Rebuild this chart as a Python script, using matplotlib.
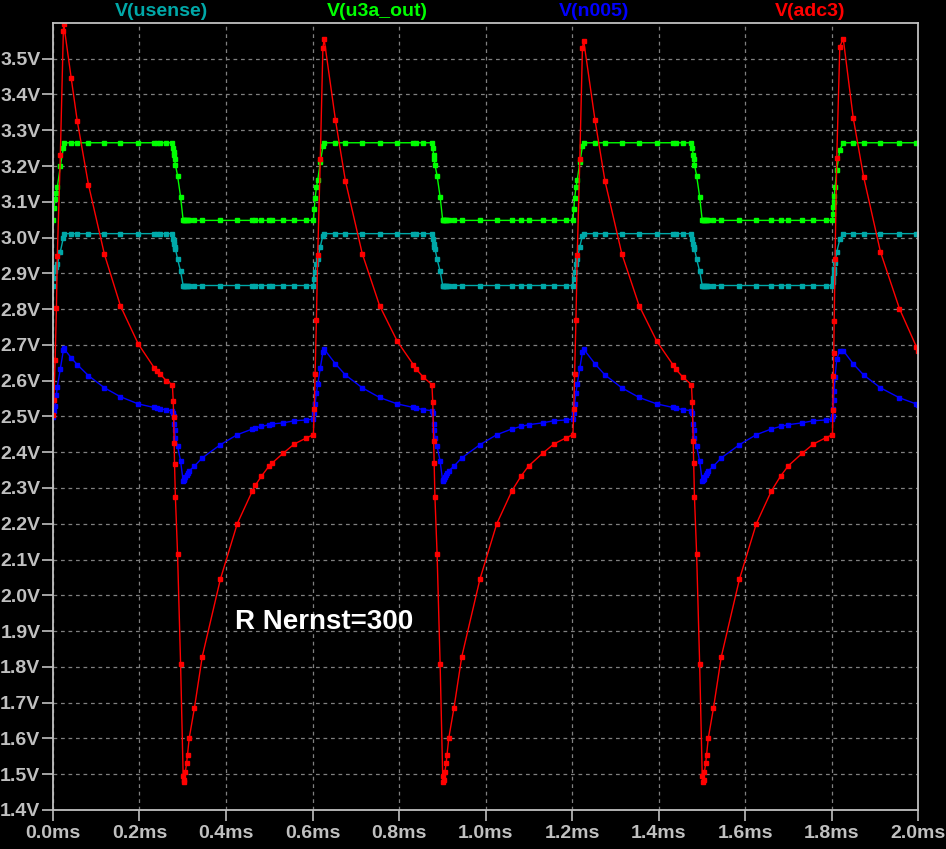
import matplotlib.pyplot as plt
from matplotlib.ticker import FixedLocator, FuncFormatter

# simulation time points shared by all four traces (ms)
time_ms = [
    0.000, 0.002, 0.005, 0.008, 0.010, 0.017, 0.024, 0.025, 0.042, 0.056,
    0.082, 0.119, 0.156, 0.197, 0.234, 0.241, 0.248, 0.262, 0.276, 0.278,
    0.279, 0.280, 0.281, 0.283, 0.288, 0.295, 0.301, 0.302, 0.304, 0.306,
    0.309, 0.311, 0.315, 0.327, 0.345, 0.387, 0.426, 0.461, 0.468, 0.482,
    0.500, 0.507, 0.532, 0.558, 0.586, 0.602,
    0.604, 0.606, 0.609, 0.612, 0.618, 0.624, 0.627, 0.653, 0.676, 0.715,
    0.755, 0.796, 0.833, 0.840, 0.856, 0.876, 0.878, 0.880, 0.881, 0.883,
    0.888, 0.895, 0.901, 0.902, 0.904, 0.906, 0.909, 0.911, 0.915, 0.927,
    0.945, 0.987, 1.026, 1.061, 1.082, 1.100, 1.132, 1.158, 1.186, 1.202,
    1.204, 1.206, 1.209, 1.212, 1.218, 1.224, 1.227, 1.253, 1.276, 1.315,
    1.355, 1.396, 1.433, 1.440, 1.456, 1.476, 1.478, 1.480, 1.481, 1.483,
    1.488, 1.495, 1.501, 1.502, 1.504, 1.506, 1.509, 1.511, 1.515, 1.527,
    1.545, 1.587, 1.626, 1.661, 1.682, 1.700, 1.732, 1.758, 1.786, 1.802,
    1.803, 1.804, 1.805, 1.806, 1.808, 1.812, 1.819, 1.827, 1.850, 1.874,
    1.913, 1.957, 1.996, 2.000,
]

v_usense = [
    2.866, 2.888, 2.906, 2.918, 2.925, 2.960, 3.000, 3.011, 3.011, 3.011,
    3.011, 3.011, 3.011, 3.011, 3.011, 3.011, 3.011, 3.011, 3.011, 2.997,
    2.990, 2.983, 2.975, 2.969, 2.940, 2.906, 2.866, 2.866, 2.866, 2.866,
    2.866, 2.866, 2.866, 2.866, 2.866, 2.866, 2.866, 2.866, 2.866, 2.866,
    2.866, 2.866, 2.866, 2.866, 2.866, 2.866,
    2.885, 2.905, 2.925, 2.940, 2.975, 3.005, 3.011, 3.011, 3.011, 3.011,
    3.011, 3.011, 3.011, 3.011, 3.011, 3.011, 2.997, 2.983, 2.975, 2.969,
    2.940, 2.906, 2.866, 2.866, 2.866, 2.866, 2.866, 2.866, 2.866, 2.866,
    2.866, 2.866, 2.866, 2.866, 2.866, 2.866, 2.866, 2.866, 2.866, 2.866,
    2.885, 2.905, 2.925, 2.940, 2.975, 3.005, 3.011, 3.011, 3.011, 3.011,
    3.011, 3.011, 3.011, 3.011, 3.011, 3.011, 2.997, 2.983, 2.975, 2.969,
    2.940, 2.906, 2.866, 2.866, 2.866, 2.866, 2.866, 2.866, 2.866, 2.866,
    2.866, 2.866, 2.866, 2.866, 2.866, 2.866, 2.866, 2.866, 2.866, 2.866,
    2.875, 2.888, 2.900, 2.912, 2.930, 2.960, 2.995, 3.011, 3.011, 3.011,
    3.011, 3.011, 3.011, 3.011,
]

v_u3a_out = [
    3.048, 3.083, 3.107, 3.125, 3.140, 3.200, 3.250, 3.265, 3.265, 3.265,
    3.265, 3.265, 3.265, 3.265, 3.265, 3.265, 3.265, 3.265, 3.265, 3.251,
    3.240, 3.232, 3.220, 3.204, 3.173, 3.114, 3.048, 3.048, 3.048, 3.048,
    3.048, 3.048, 3.048, 3.048, 3.048, 3.048, 3.048, 3.048, 3.048, 3.048,
    3.048, 3.048, 3.048, 3.048, 3.048, 3.048,
    3.080, 3.110, 3.140, 3.160, 3.210, 3.255, 3.265, 3.265, 3.265, 3.265,
    3.265, 3.265, 3.265, 3.265, 3.265, 3.265, 3.251, 3.232, 3.220, 3.204,
    3.173, 3.114, 3.048, 3.048, 3.048, 3.048, 3.048, 3.048, 3.048, 3.048,
    3.048, 3.048, 3.048, 3.048, 3.048, 3.048, 3.048, 3.048, 3.048, 3.048,
    3.080, 3.110, 3.140, 3.160, 3.210, 3.255, 3.265, 3.265, 3.265, 3.265,
    3.265, 3.265, 3.265, 3.265, 3.265, 3.265, 3.251, 3.232, 3.220, 3.204,
    3.173, 3.114, 3.048, 3.048, 3.048, 3.048, 3.048, 3.048, 3.048, 3.048,
    3.048, 3.048, 3.048, 3.048, 3.048, 3.048, 3.048, 3.048, 3.048, 3.048,
    3.065, 3.085, 3.100, 3.115, 3.140, 3.190, 3.245, 3.265, 3.265, 3.265,
    3.265, 3.265, 3.265, 3.265,
]

v_n005 = [
    2.499, 2.515, 2.529, 2.561, 2.583, 2.633, 2.685, 2.690, 2.664, 2.645,
    2.614, 2.580, 2.555, 2.535, 2.525, 2.523, 2.522, 2.518, 2.516, 2.510,
    2.500, 2.480, 2.463, 2.440, 2.417, 2.375, 2.319, 2.321, 2.325, 2.330,
    2.336, 2.342, 2.348, 2.361, 2.384, 2.421, 2.449, 2.465, 2.468, 2.472,
    2.477, 2.479, 2.482, 2.488, 2.490, 2.493,
    2.510, 2.535, 2.565, 2.590, 2.635, 2.680, 2.688, 2.647, 2.616, 2.580,
    2.553, 2.535, 2.525, 2.523, 2.519, 2.516, 2.510, 2.480, 2.463, 2.440,
    2.417, 2.375, 2.319, 2.321, 2.325, 2.330, 2.336, 2.342, 2.348, 2.361,
    2.384, 2.421, 2.449, 2.465, 2.472, 2.477, 2.482, 2.488, 2.490, 2.493,
    2.510, 2.535, 2.565, 2.590, 2.635, 2.680, 2.688, 2.647, 2.616, 2.580,
    2.553, 2.535, 2.525, 2.523, 2.519, 2.516, 2.510, 2.480, 2.463, 2.440,
    2.417, 2.375, 2.319, 2.321, 2.325, 2.330, 2.336, 2.342, 2.348, 2.361,
    2.384, 2.421, 2.449, 2.465, 2.472, 2.477, 2.482, 2.488, 2.490, 2.493,
    2.500, 2.520, 2.545, 2.570, 2.610, 2.660, 2.684, 2.684, 2.647, 2.616,
    2.580, 2.552, 2.535, 2.533,
]

v_adc3 = [
    2.505, 2.545, 2.658, 2.804, 2.949, 3.230, 3.577, 3.596, 3.447, 3.327,
    3.148, 2.953, 2.809, 2.703, 2.636, 2.626, 2.618, 2.600, 2.589, 2.543,
    2.499, 2.426, 2.368, 2.275, 2.116, 1.809, 1.494, 1.477, 1.485, 1.506,
    1.531, 1.554, 1.601, 1.685, 1.828, 2.045, 2.200, 2.292, 2.308, 2.333,
    2.362, 2.370, 2.397, 2.423, 2.440, 2.449,
    2.520, 2.620, 2.770, 2.950, 3.220, 3.530, 3.554, 3.329, 3.159, 2.955,
    2.810, 2.710, 2.645, 2.632, 2.610, 2.589, 2.540, 2.430, 2.370, 2.275,
    2.116, 1.809, 1.494, 1.477, 1.485, 1.506, 1.531, 1.554, 1.601, 1.685,
    1.828, 2.045, 2.200, 2.292, 2.333, 2.362, 2.397, 2.423, 2.440, 2.449,
    2.520, 2.620, 2.770, 2.950, 3.220, 3.530, 3.550, 3.329, 3.159, 2.955,
    2.810, 2.710, 2.645, 2.632, 2.610, 2.589, 2.540, 2.430, 2.370, 2.275,
    2.116, 1.809, 1.494, 1.477, 1.485, 1.506, 1.531, 1.554, 1.601, 1.685,
    1.828, 2.045, 2.200, 2.292, 2.333, 2.362, 2.397, 2.423, 2.440, 2.449,
    2.517, 2.613, 2.676, 2.767, 2.939, 3.223, 3.534, 3.556, 3.335, 3.170,
    2.960, 2.801, 2.695, 2.684,
]

trace_names = ["V(usense)", "V(u3a_out)", "V(n005)", "V(adc3)"]
trace_colors = ["#00a8a8", "#00ff00", "#0000ff", "#ff0000"]

x_ticks = [0.0, 0.2, 0.4, 0.6, 0.8, 1.0, 1.2, 1.4, 1.6, 1.8, 2.0]
y_ticks = [1.4, 1.5, 1.6, 1.7, 1.8, 1.9, 2.0, 2.1, 2.2, 2.3, 2.4, 2.5,
           2.6, 2.7, 2.8, 2.9, 3.0, 3.1, 3.2, 3.3, 3.4, 3.5]

FG = "#c0c0c0"
FONT = ["Liberation Sans", "DejaVu Sans"]


def main() -> None:
    plt.rcParams["font.family"] = FONT
    fig = plt.figure(figsize=(9.46, 8.49), dpi=100, facecolor="black")
    ax = fig.add_axes([0.056, 0.046, 0.9145, 0.927], facecolor="black")

    series = [v_usense, v_u3a_out, v_n005, v_adc3]
    for values, color in zip(series, trace_colors):
        ax.plot(time_ms, values, color=color, lw=1.0, marker="s", ms=2.2,
                mec=color, mfc=color, clip_on=True)

    ax.set_xlim(0, 2.0)
    ax.set_ylim(1.4, 3.6)
    ax.xaxis.set_major_locator(FixedLocator(x_ticks))
    ax.yaxis.set_major_locator(FixedLocator(y_ticks))
    ax.xaxis.set_major_formatter(FuncFormatter(lambda v, _: f"{v:.1f}ms"))
    ax.yaxis.set_major_formatter(FuncFormatter(lambda v, _: f"{v:.1f}V"))
    ax.tick_params(colors=FG, labelcolor=FG, direction="out", length=8,
                   width=1.2, labelsize=14)
    ax.tick_params(axis="x", pad=3)
    ax.tick_params(axis="y", pad=1)
    for lab in ax.get_xticklabels() + ax.get_yticklabels():
        lab.set_fontweight("bold")
    for spine in ax.spines.values():
        spine.set_color(FG)
        spine.set_linewidth(1.3)
    ax.grid(True, color="#808080", linestyle=(0, (3, 3)), linewidth=0.9)
    ax.set_axisbelow(True)

    for i, (name, color) in enumerate(zip(trace_names, trace_colors)):
        fig.text(0.056 + 0.9145 * (0.125 + 0.25 * i), 0.987, name, color=color,
                 ha="center", va="center", fontsize=14, fontweight="bold")

    ax.text(0.421, 1.924, "R Nernst=300", color="white", fontsize=20,
            fontweight="bold", ha="left", va="center")

    fig.savefig("out.png", dpi=100, facecolor="black")


if __name__ == "__main__":
    main()
